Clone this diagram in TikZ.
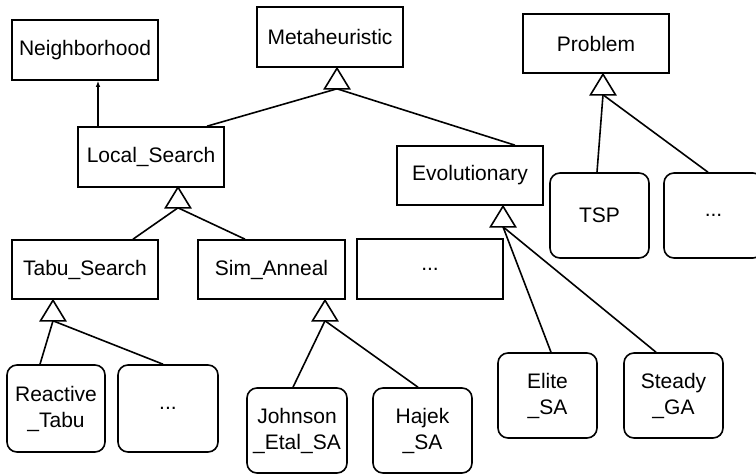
\documentclass[tikz,border=0pt]{standalone}
\usepackage{fontspec}
\setmainfont{Liberation Sans}
\usetikzlibrary{arrows.meta,calc}
\begin{document}
\begin{tikzpicture}[x=1pt,y=-1pt,
  every node/.style={font=\fontsize{21}{26}\selectfont, inner sep=0pt, align=center},
  cls/.style={draw, line width=1.6pt, minimum width=146pt, minimum height=60pt},
  inst/.style={draw, line width=1.6pt, rounded corners=10pt, minimum width=99pt, minimum height=85pt},
  link/.style={line width=1.6pt},
  tri/.style={draw, line width=1.6pt, fill=white, line join=miter}
]
\useasboundingbox (0,0) rectangle (756,474);
% classes
\node[cls] (neigh) at (85,50) {Neighborhood};
\node[cls] (meta) at (330,37) {Metaheuristic};
\node[cls, minimum height=59pt] (prob) at (596,43.5) {Problem};
\node[cls] (ls) at (151,157) {Local\_Search};
\node[cls, minimum height=59pt] (evo) at (470,175.5) {Evolutionary};
\node[cls, minimum height=59pt] (tabu) at (85,269.5) {Tabu\_Search};
\node[cls, minimum height=59pt, minimum width=147pt] (sim) at (271.5,269.5) {Sim\_Anneal};
\node[cls] (edots) at (430,269) {...};
% instances
\node[inst] (tsp) at (599.5,215.5) {TSP};
\node[inst] (pdots) at (713.5,215.5) {...};
\node[inst, minimum height=87pt, minimum width=98pt] (react) at (56,408.5) {Reactive\\\_Tabu};
\node[inst, minimum height=87pt, minimum width=100pt] (tdots) at (168,408.5) {...};
\node[inst, minimum width=100pt] (john) at (297,430.5) {Johnson\\\_Etal\_SA};
\node[inst] (hajek) at (422.5,430.5) {Hajek\\\_SA};
\node[inst] (elite) at (547.5,395.5) {Elite\\\_SA};
\node[inst] (steady) at (673.5,395.5) {Steady\\\_GA};
% triangle base centres
\coordinate (tM) at ($(meta.south)+(7,21)$);
\coordinate (tP) at ($(prob.south)+(7,21)$);
\coordinate (tL) at ($(ls.south)+(27,20)$);
\coordinate (tE) at ($(evo.south)+(33,21)$);
\coordinate (tT) at ($(tabu.south)+(-32,21)$);
\coordinate (tS) at ($(sim.south)+(53.5,21)$);
% connectors
\draw[link] (tM) -- ([xshift=56pt]ls.north);
\draw[link] (tM) -- ([xshift=45pt]evo.north);
\draw[link] (tP) -- ([xshift=-2.5pt]tsp.north);
\draw[link] (tP) -- ([xshift=-5.5pt]pdots.north);
\draw[link] (tL) -- ([xshift=48pt]tabu.north);
\draw[link] (tL) -- ([xshift=-26.5pt]sim.north);
\draw[link] (tT) -- ([xshift=-16pt]react.north);
\draw[link] (tT) -- ([xshift=-5pt]tdots.north);
\draw[link] (tS) -- ([xshift=-4pt]john.north);
\draw[link] (tS) -- ([xshift=-4.5pt]hajek.north);
\draw[link] (tE) -- ([xshift=3.5pt]elite.north);
\draw[link] (tE) -- ([xshift=-17.5pt]steady.north);
\draw[line width=1.1pt, -{Latex[length=6pt,width=4.5pt]}] ([xshift=-53pt]ls.north) -- ([xshift=13pt]neigh.south);
% triangles
\foreach \t in {tM,tP,tL,tE,tT,tS}{
  \draw[tri] (\t) ++(-12.5,0) -- ++(12.5,-20.5) -- ++(12.5,20.5) -- cycle;
}
\end{tikzpicture}
\end{document}
